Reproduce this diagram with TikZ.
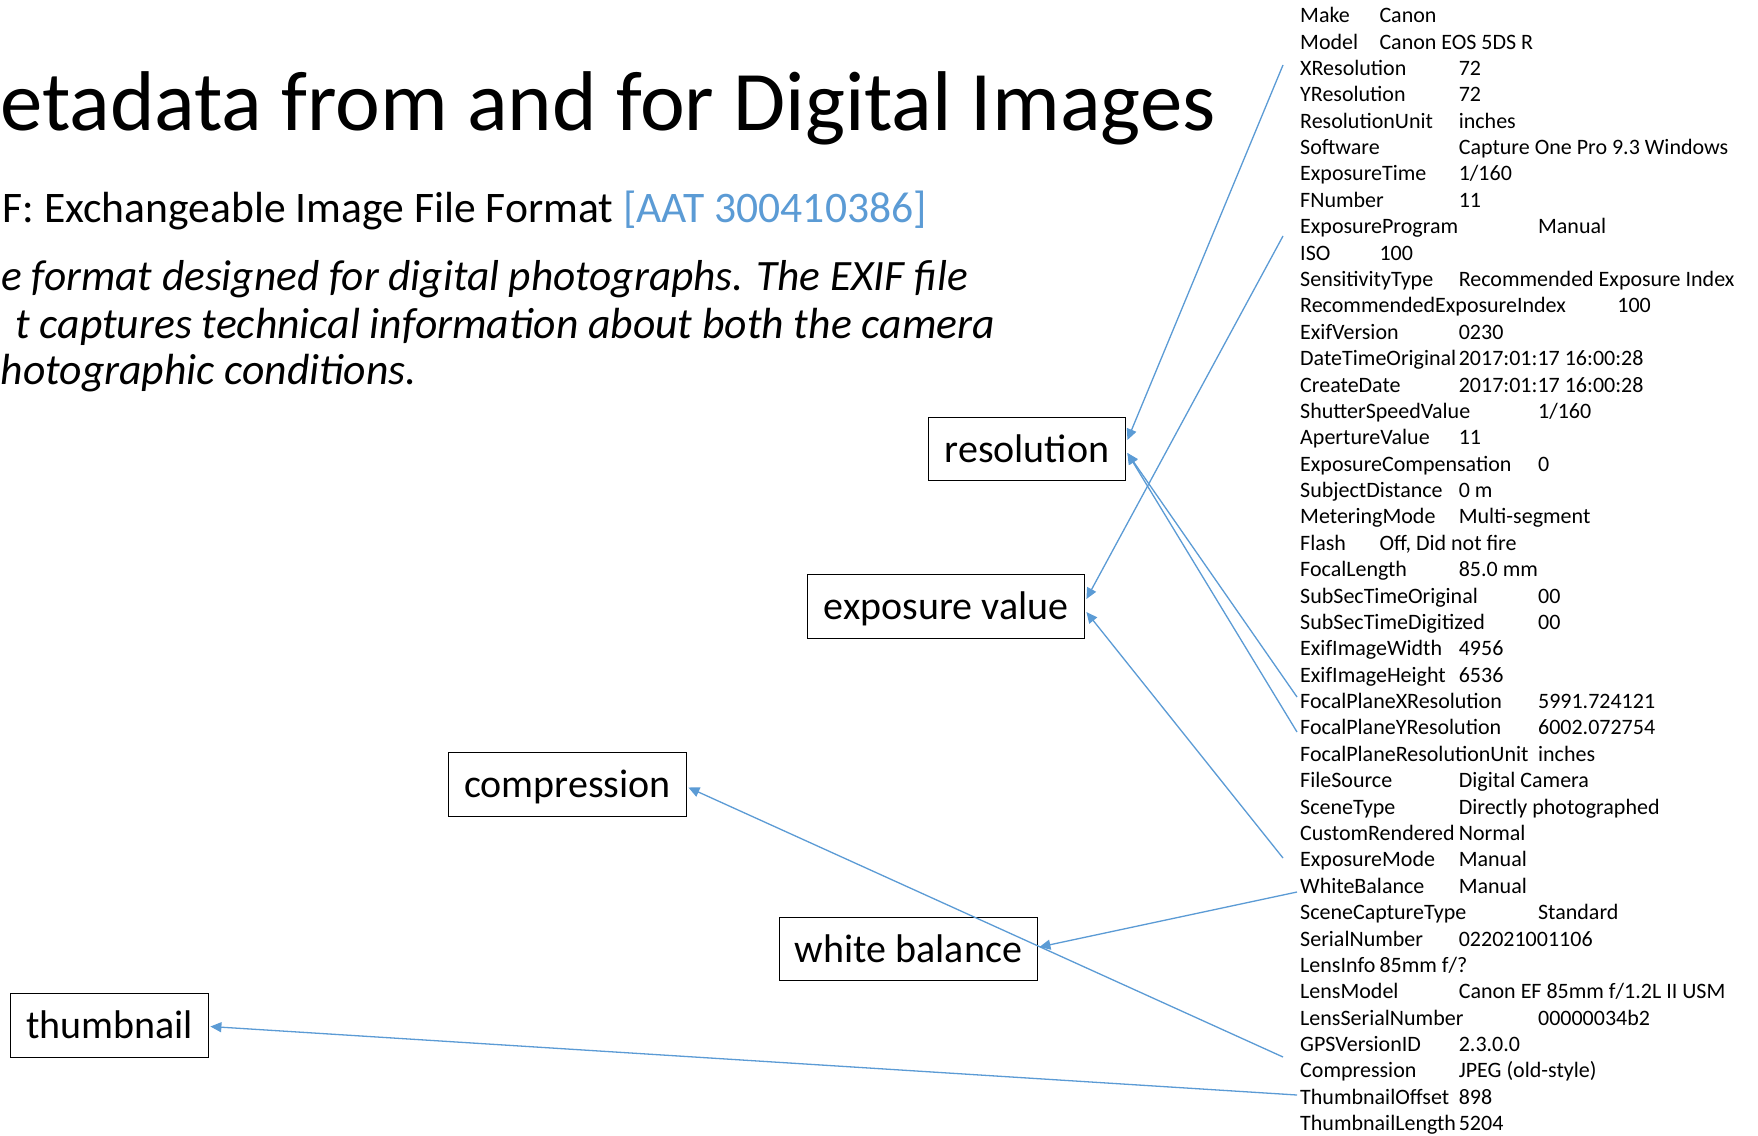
\documentclass[tikz,border=0pt]{standalone}
\usepackage{fontspec}
\setmainfont{Carlito}
\usetikzlibrary{arrows.meta,calc}
\definecolor{linkblue}{HTML}{5B9BD5}
\begin{document}
\begin{tikzpicture}[x=1pt,y=-1pt,
  tag/.style={draw=black, line width=1.8pt, inner sep=0pt,
    text height=30pt, text depth=4pt, font=\fontsize{40}{48}\selectfont},
  conn/.style={draw=linkblue, line width=1.3pt,
    -{Triangle[length=11pt,width=10pt]}},
  rowtext/.style={anchor=base west, inner sep=0pt,
    font=\fontsize{22}{26}\selectfont},
  plain/.style={anchor=base east, inner sep=0pt},
  para/.style={plain, font=\fontsize{43.6}{50}\selectfont\itshape}]
\useasboundingbox (0,0) rectangle (1758,1135);
\fill[white] (0,0) rectangle (1758,1135);

% heading and description
\node[anchor=base west, inner sep=0pt, font=\fontsize{84.8}{100}\selectfont] (title) at (0,130)
  {etadata from and for Digital Images};
\node[plain, font=\fontsize{43.6}{50}\selectfont] (subtitle) at (927,222)
  {F: Exchangeable Image File Format \textcolor{linkblue}{[AAT 300410386]}};
\node[para, anchor=base west, font=\fontsize{43.3}{50}\selectfont\itshape] (descA) at (1,290)
  {e format designed for digital photographs. The EXIF file};
\node[para] (descB) at (995,338)
  {t captures technical information about both the camera};
\node[para] (descC) at (417,384)
  {hotographic conditions.};

% EXIF tag list: row / key / tab column / value
\foreach \i/\k/\c/\v in {
  1/Make/1/{Canon},
  2/Model/1/{Canon EOS 5DS R},
  3/XResolution/2/{72},
  4/YResolution/2/{72},
  5/ResolutionUnit/2/{inches},
  6/Software/2/{Capture One Pro 9.3 Windows},
  7/ExposureTime/2/{1/160},
  8/FNumber/2/{11},
  9/ExposureProgram/3/{Manual},
  10/ISO/1/{100},
  11/SensitivityType/2/{Recommended Exposure Index},
  12/RecommendedExposureIndex/4/{100},
  13/ExifVersion/2/{0230},
  14/DateTimeOriginal/2/{2017:01:17 16:00:28},
  15/CreateDate/2/{2017:01:17 16:00:28},
  16/ShutterSpeedValue/3/{1/160},
  17/ApertureValue/2/{11},
  18/ExposureCompensation/3/{0},
  19/SubjectDistance/2/{0 m},
  20/MeteringMode/2/{Multi-segment},
  21/Flash/1/{Off, Did not fire},
  22/FocalLength/2/{85.0 mm},
  23/SubSecTimeOriginal/3/{00},
  24/SubSecTimeDigitized/3/{00},
  25/ExifImageWidth/2/{4956},
  26/ExifImageHeight/2/{6536},
  27/FocalPlaneXResolution/3/{5991.724121},
  28/FocalPlaneYResolution/3/{6002.072754},
  29/FocalPlaneResolutionUnit/3/{inches},
  30/FileSource/2/{Digital Camera},
  31/SceneType/2/{Directly photographed},
  32/CustomRendered/2/{Normal},
  33/ExposureMode/2/{Manual},
  34/WhiteBalance/2/{Manual},
  35/SceneCaptureType/3/{Standard},
  36/SerialNumber/2/{022021001106},
  37/LensInfo/1/{85mm f/?},
  38/LensModel/2/{Canon EF 85mm f/1.2L II USM},
  39/LensSerialNumber/3/{00000034b2},
  40/GPSVersionID/2/{2.3.0.0},
  41/Compression/2/{JPEG (old-style)},
  42/ThumbnailOffset/2/{898},
  43/ThumbnailLength/2/{5204}} {
  \node[rowtext] (k\i) at (1300,{22.7+(\i-1)*26.38}) {\k};
  \node[rowtext] (v\i) at ({1300+\c*79.3},{22.7+(\i-1)*26.38}) {\v};
}

% category boxes
\node[tag, minimum width=197pt, minimum height=63pt] (res)   at (1027,449)   {resolution};
\node[tag, minimum width=277pt, minimum height=64pt] (exp)   at (946,606.5)  {exposure value};
\node[tag, minimum width=238pt, minimum height=64pt] (comp)  at (567.5,784.5) {compression};
\node[tag, minimum width=258pt, minimum height=63pt] (wb)    at (908.5,949)  {white balance};
\node[tag, minimum width=198pt, minimum height=64pt] (thumb) at (109.5,1025.5) {thumbnail};

% connector start points beside the tag list
\coordinate (sXres)    at (1283,65);
\coordinate (sExpProg) at (1283,236);
\coordinate (sFPX)     at (1297,697);
\coordinate (sFPY)     at (1297,732);
\coordinate (sExpMode) at (1283,858);
\coordinate (sWB)      at (1297,892);
\coordinate (sGPS)     at (1283,1057);
\coordinate (sThumb)   at (1297,1095);

\draw[conn] (sXres)    -- ($(res.east)+(1,-9)$);
\draw[conn] (sFPX)     -- ($(res.east)+(1,4)$);
\draw[conn] (sFPY)     -- ($(res.east)+(1,4)$);
\draw[conn] (sExpProg) -- ($(exp.east)+(1,-7.5)$);
\draw[conn] (sExpMode) -- ($(exp.east)+(1,5.5)$);
\draw[conn] (sWB)      -- ($(wb.east)+(1,-2)$);
\draw[conn] (sGPS)     -- ($(comp.east)+(1,3)$);
\draw[conn] (sThumb)   -- ($(thumb.east)+(1,1)$);
\end{tikzpicture}
\end{document}
